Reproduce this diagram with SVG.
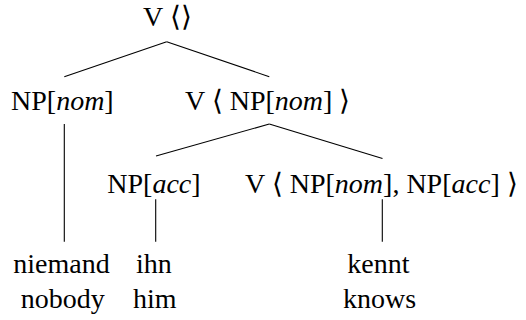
<svg xmlns="http://www.w3.org/2000/svg" width="526" height="320" viewBox="0 0 526 320">
<rect width="526" height="320" fill="#fff"/>
<g id="connectors" stroke="#000" stroke-width="1.1" fill="none">
<line x1="166.7" y1="41.7" x2="64.3" y2="76.7"/>
<line x1="166.7" y1="41.7" x2="269.3" y2="76.7"/>
<line x1="64.3" y1="124" x2="64.3" y2="241.7"/>
<line x1="269.3" y1="124" x2="156" y2="156"/>
<line x1="269.3" y1="124" x2="382.5" y2="158.5"/>
<line x1="155.7" y1="199.3" x2="155.7" y2="241.7"/>
<line x1="382.3" y1="199.3" x2="382.3" y2="241.7"/>
</g>
<g id="root"><text x="143" y="26" font-family="Liberation Serif" font-size="28">V ⟨⟩</text></g>
<g id="np-nom"><text x="11" y="109.5" font-family="Liberation Serif" font-size="28">NP[<tspan font-style="italic">nom</tspan>]</text></g>
<g id="v-nom"><text x="185" y="109.5" font-family="Liberation Serif" font-size="28">V ⟨ NP[<tspan font-style="italic">nom</tspan>] ⟩</text></g>
<g id="np-acc"><text x="107.3" y="193" font-family="Liberation Serif" font-size="28">NP[<tspan font-style="italic">acc</tspan>]</text></g>
<g id="v-nom-acc"><text x="245" y="193" font-family="Liberation Serif" font-size="28">V ⟨ NP[<tspan font-style="italic">nom</tspan>], NP[<tspan font-style="italic">acc</tspan>] ⟩</text></g>
<g id="niemand"><text x="13.3" y="273" font-family="Liberation Serif" font-size="28">niemand</text><text x="20.7" y="308" font-family="Liberation Serif" font-size="28">nobody</text></g>
<g id="ihn"><text x="136" y="273" font-family="Liberation Serif" font-size="28">ihn</text><text x="133" y="308" font-family="Liberation Serif" font-size="28">him</text></g>
<g id="kennt"><text x="347.3" y="273" font-family="Liberation Serif" font-size="28">kennt</text><text x="343" y="308" font-family="Liberation Serif" font-size="28">knows</text></g>
</svg>
